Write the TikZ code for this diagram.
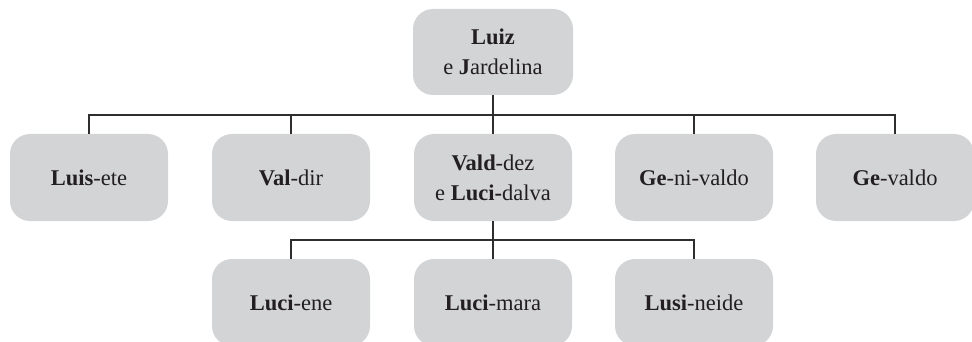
\documentclass[tikz,border=0pt]{standalone}
\usepackage{fontspec}
\setmainfont{Liberation Serif}
\usepackage{xcolor}
\definecolor{boxfill}{HTML}{D3D4D6}
\definecolor{linecol}{HTML}{2E2E2E}
\definecolor{txtcol}{HTML}{231F20}
\begin{document}
\begin{tikzpicture}[x=1pt,y=-1pt,
  famnode/.style={draw=none, fill=boxfill, rounded corners=20pt, minimum width=158pt, minimum height=87pt, inner sep=0pt, align=center, text=txtcol, font=\fontsize{22.5}{30}\selectfont},
  bus/.style={draw=linecol, line width=1.2pt}]
\useasboundingbox (0,0) rectangle (972,342);
\begin{scope}
\clip (0,0) rectangle (972,342);
\node[famnode, minimum width=160pt, minimum height=86pt] (top) at (493,52) {\textbf{Luiz}\\e \textbf{J}ardelina};
\node[famnode] (b1) at (89,177.5) {\textbf{Luis}-ete};
\node[famnode] (b2) at (291,177.5) {\textbf{Val}-dir};
\node[famnode] (b3) at (493,177.5) {\textbf{Vald}-dez\\e \textbf{Luci-}dalva};
\node[famnode] (b4) at (694,177.5) {\textbf{Ge}-ni-valdo};
\node[famnode] (b5) at (895,177.5) {\textbf{Ge}-valdo};
\node[famnode] (c1) at (291,302.5) {\textbf{Luci}-ene};
\node[famnode] (c2) at (493,302.5) {\textbf{Luci}-mara};
\node[famnode] (c3) at (694,302.5) {\textbf{Lusi}-neide};
\end{scope}
\coordinate (busA) at (493,115);
\coordinate (busB) at (493,240);
\draw[bus] (top.south) -- (b3.north);
\draw[bus] (b1.north) -- (b1.north |- busA) -- (b5.north |- busA) -- (b5.north);
\draw[bus] (b2.north) -- (b2.north |- busA);
\draw[bus] (b4.north) -- (b4.north |- busA);
\draw[bus] (b3.south) -- (c2.north);
\draw[bus] (c1.north) -- (c1.north |- busB) -- (c3.north |- busB) -- (c3.north);
\end{tikzpicture}
\end{document}
